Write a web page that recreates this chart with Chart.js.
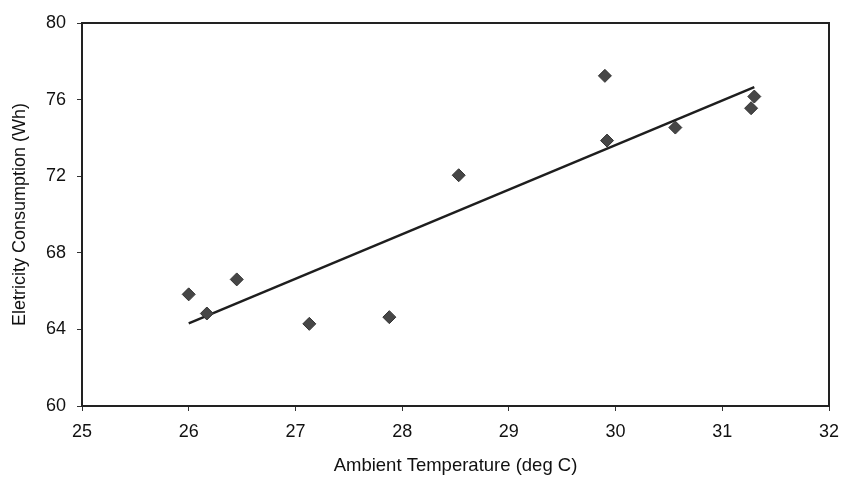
<!DOCTYPE html>
<html>
<head>
<meta charset="utf-8">
<script src="https://cdn.jsdelivr.net/npm/chart.js@4/dist/chart.umd.min.js"></script>
<style>
  html, body { margin: 0; padding: 0; background: #fff; }
  #wrap { width: 841px; height: 477px; }
</style>
</head>
<body>
<div id="wrap"><canvas id="c" width="841" height="477"></canvas></div>
<script>
// Measured points: ambient temperature (deg C) vs electricity consumption (Wh)
const temperature = [26.00, 26.17, 26.45, 27.13, 27.88, 28.53, 29.90, 29.92, 30.56, 31.27, 31.30];
const consumption = [65.83, 64.83, 66.61, 64.29, 64.64, 72.05, 77.24, 73.86, 74.54, 75.55, 76.16];
// Trend line end points
const trendX = [26.00, 31.30];
const trendY = [64.31, 76.65];
// Axis ranges / ticks
const xTicks = [25, 26, 27, 28, 29, 30, 31, 32];
const yTicks = [60, 64, 68, 72, 76, 80];

const points = temperature.map((t, i) => ({ x: t, y: consumption[i] }));
const trend = trendX.map((t, i) => ({ x: t, y: trendY[i] }));

const boxPlugin = {
  id: 'box',
  afterDraw(chart) {
    const { ctx, chartArea: a } = chart;
    ctx.save();
    ctx.strokeStyle = '#222';
    ctx.lineWidth = 2;
    ctx.strokeRect(a.left, a.top, a.right - a.left, a.bottom - a.top);
    ctx.restore();
  }
};

new Chart(document.getElementById('c'), {
  type: 'scatter',
  data: {
    datasets: [
      {
        label: 'Trend',
        type: 'line',
        data: trend,
        borderColor: '#1e1e1e',
        borderWidth: 2.5,
        pointRadius: 0,
        fill: false,
        order: 2
      },
      {
        label: 'Measured',
        data: points,
        pointStyle: 'rectRot',
        pointRadius: 6.5,
        backgroundColor: '#464646',
        borderColor: '#333',
        borderWidth: 1,
        order: 1
      }
    ]
  },
  options: {
    responsive: false,
    animation: false,
    layout: { padding: { top: 23, right: 12, left: 0, bottom: 0 } },
    plugins: { legend: { display: false }, tooltip: { enabled: false } },
    scales: {
      x: {
        type: 'linear',
        min: xTicks[0],
        max: xTicks[xTicks.length - 1],
        afterBuildTicks(s) { s.ticks = xTicks.map(v => ({ value: v })); },
        afterFit(s) { s.height = 71; s.paddingRight = 0; s.paddingLeft = 0; },
        grid: { drawOnChartArea: false, tickLength: 5, color: '#333', lineWidth: 1 },
        border: { display: true, color: '#222', width: 2 },
        ticks: { color: '#111', font: { family: 'Liberation Sans', size: 18 }, padding: 10 },
        title: {
          display: true,
          text: 'Ambient Temperature (deg C)',
          color: '#111',
          font: { family: 'Liberation Sans', size: 18.5 },
          padding: { top: 4, bottom: 0 }
        }
      },
      y: {
        type: 'linear',
        min: yTicks[0],
        max: yTicks[yTicks.length - 1],
        afterBuildTicks(s) { s.ticks = yTicks.map(v => ({ value: v })); },
        afterFit(s) { s.width = 82; s.paddingTop = 0; s.paddingBottom = 0; },
        grid: { drawOnChartArea: false, tickLength: 5, color: '#333', lineWidth: 1 },
        border: { display: true, color: '#222', width: 2 },
        ticks: { color: '#111', font: { family: 'Liberation Sans', size: 18 }, padding: 11 },
        title: {
          display: true,
          text: 'Eletricity Consumption (Wh)',
          color: '#111',
          font: { family: 'Liberation Sans', size: 18 },
          padding: { top: 9, bottom: 0 }
        }
      }
    }
  },
  plugins: [boxPlugin]
});
</script>
</body>
</html>
